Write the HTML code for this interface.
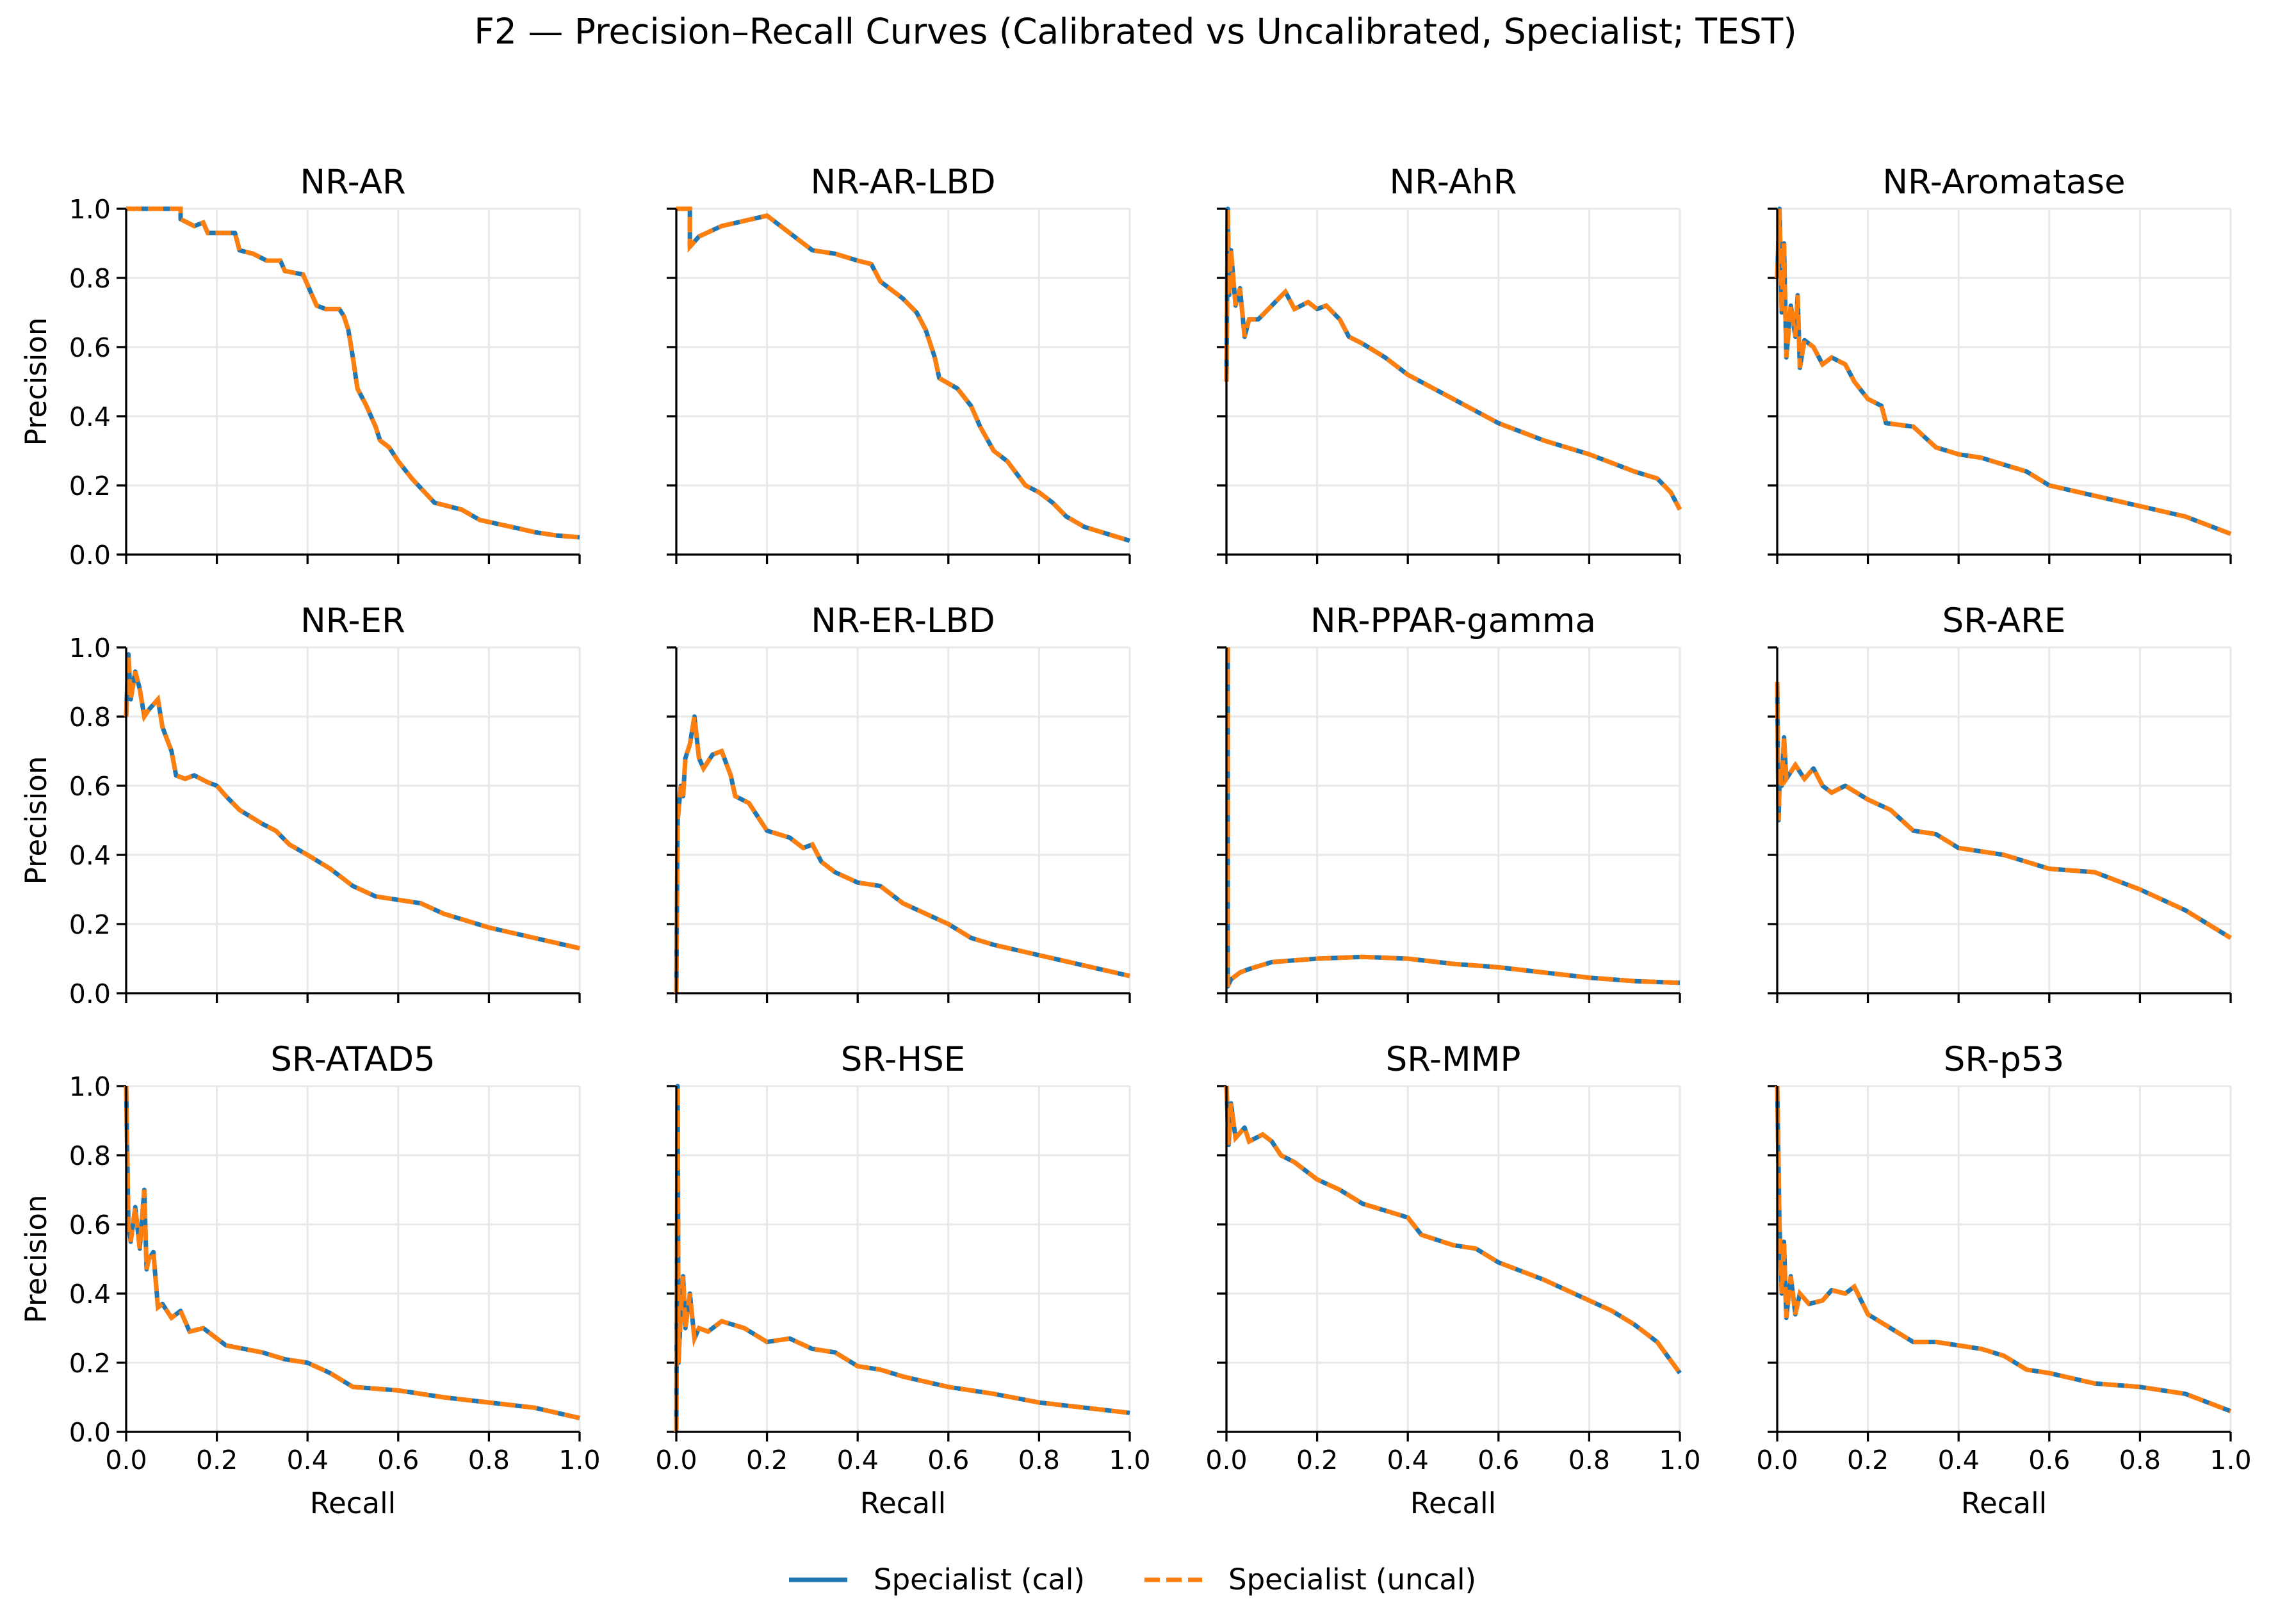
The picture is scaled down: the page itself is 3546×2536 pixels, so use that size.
<!DOCTYPE html>
<html><head><meta charset="utf-8"><style>
html,body{margin:0;padding:0;background:#fff;}
svg{display:block;font-family:"DejaVu Sans","Liberation Sans",sans-serif;}
</style></head><body>
<svg id="chart" width="3546" height="2536" viewBox="0 0 3546 2536" xmlns="http://www.w3.org/2000/svg">
<rect width="3546" height="2536" fill="#fff"/>
<text x="1773" y="68" font-size="55" text-anchor="middle" fill="#000">F2 — Precision–Recall Curves (Calibrated vs Uncalibrated, Specialist; TEST)</text>
<g>
<line x1="1232" y1="2467" x2="1323" y2="2467" stroke="#1f77b4" stroke-width="7"/>
<text x="1364" y="2482" font-size="45">Specialist (cal)</text>
<line x1="1787" y1="2467" x2="1877" y2="2467" stroke="#ff7f0e" stroke-width="7" stroke-dasharray="24,10"/>
<text x="1918" y="2482" font-size="45">Specialist (uncal)</text>
</g>
<g id="panels"></g>
</svg>
<script>
const panelTitles = ["NR-AR","NR-AR-LBD","NR-AhR","NR-Aromatase","NR-ER","NR-ER-LBD","NR-PPAR-gamma","SR-ARE","SR-ATAD5","SR-HSE","SR-MMP","SR-p53"];
const tickValues = [0,0.2,0.4,0.6,0.8,1.0];
const tickLabels = ["0.0","0.2","0.4","0.6","0.8","1.0"];
const recallNRAR = [0,0.12,0.12,0.15,0.17,0.18,0.21,0.24,0.25,0.28,0.31,0.34,0.35,0.39,0.40,0.42,0.44,0.47,0.48,0.49,0.50,0.51,0.53,0.55,0.56,0.58,0.60,0.63,0.68,0.74,0.78,0.85,0.90,0.95,1.0];
const precNRAR   = [1,1,0.97,0.95,0.96,0.93,0.93,0.93,0.88,0.87,0.85,0.85,0.82,0.81,0.78,0.72,0.71,0.71,0.69,0.65,0.57,0.48,0.43,0.37,0.33,0.31,0.27,0.22,0.15,0.13,0.10,0.08,0.065,0.055,0.05];
const recallNRARLBD = [0,0.03,0.03,0.05,0.1,0.2,0.22,0.25,0.28,0.3,0.35,0.4,0.43,0.45,0.5,0.53,0.55,0.57,0.58,0.62,0.65,0.67,0.7,0.73,0.77,0.8,0.83,0.86,0.9,0.95,1.0];
const precNRARLBD   = [1,1,0.89,0.92,0.95,0.98,0.96,0.93,0.9,0.88,0.87,0.85,0.84,0.79,0.74,0.7,0.65,0.57,0.51,0.48,0.43,0.37,0.3,0.27,0.2,0.18,0.15,0.11,0.08,0.06,0.04];
const recallNRAhR = [0,0.003,0.006,0.01,0.02,0.03,0.04,0.05,0.07,0.1,0.13,0.15,0.18,0.2,0.22,0.25,0.27,0.3,0.35,0.4,0.5,0.6,0.7,0.8,0.9,0.95,0.98,1.0];
const precNRAhR   = [0.5,1.0,0.75,0.88,0.72,0.77,0.63,0.68,0.68,0.72,0.76,0.71,0.73,0.71,0.72,0.68,0.63,0.61,0.57,0.52,0.45,0.38,0.33,0.29,0.24,0.22,0.18,0.13];
const recallArom = [0,0.005,0.01,0.015,0.02,0.03,0.04,0.045,0.05,0.06,0.08,0.1,0.12,0.15,0.17,0.2,0.23,0.24,0.3,0.35,0.4,0.45,0.5,0.55,0.6,0.7,0.8,0.9,1.0];
const precArom   = [0.8,1.0,0.7,0.9,0.57,0.72,0.63,0.75,0.54,0.62,0.6,0.55,0.57,0.55,0.5,0.45,0.43,0.38,0.37,0.31,0.29,0.28,0.26,0.24,0.2,0.17,0.14,0.11,0.06];
const recallNRER = [0,0.005,0.01,0.02,0.03,0.04,0.05,0.07,0.08,0.1,0.11,0.13,0.15,0.18,0.2,0.22,0.25,0.3,0.33,0.36,0.4,0.45,0.5,0.55,0.6,0.65,0.7,0.8,0.9,1.0];
const precNRER   = [0.8,0.98,0.85,0.93,0.88,0.8,0.82,0.85,0.77,0.7,0.63,0.62,0.63,0.61,0.6,0.57,0.53,0.49,0.47,0.43,0.4,0.36,0.31,0.28,0.27,0.26,0.23,0.19,0.16,0.13];
const recallERLBD = [0,0.003,0.01,0.015,0.02,0.03,0.04,0.05,0.06,0.08,0.1,0.12,0.13,0.16,0.18,0.2,0.25,0.28,0.3,0.32,0.35,0.4,0.45,0.5,0.55,0.6,0.65,0.7,0.8,0.9,1.0];
const precERLBD   = [0,0.5,0.6,0.57,0.68,0.72,0.8,0.68,0.65,0.69,0.7,0.63,0.57,0.55,0.51,0.47,0.45,0.42,0.43,0.38,0.35,0.32,0.31,0.26,0.23,0.2,0.16,0.14,0.11,0.08,0.05];
const recallPPAR = [0.003,0.003,0.01,0.03,0.05,0.1,0.2,0.3,0.4,0.5,0.6,0.7,0.8,0.9,1.0];
const precPPAR   = [1,0.02,0.04,0.06,0.07,0.09,0.1,0.105,0.1,0.085,0.075,0.06,0.045,0.035,0.03];
const recallARE = [0,0.003,0.006,0.01,0.015,0.02,0.04,0.06,0.08,0.1,0.12,0.15,0.2,0.25,0.3,0.35,0.4,0.45,0.5,0.55,0.6,0.7,0.8,0.9,1.0];
const precARE   = [0.9,0.5,0.65,0.6,0.74,0.62,0.66,0.62,0.65,0.6,0.58,0.6,0.56,0.53,0.47,0.46,0.42,0.41,0.4,0.38,0.36,0.35,0.3,0.24,0.16];
const recallATAD5 = [0,0.005,0.01,0.02,0.03,0.04,0.045,0.05,0.06,0.07,0.08,0.1,0.12,0.14,0.17,0.2,0.22,0.3,0.35,0.4,0.45,0.5,0.6,0.7,0.8,0.9,1.0];
const precATAD5   = [1,0.6,0.55,0.65,0.53,0.7,0.47,0.5,0.52,0.36,0.37,0.33,0.35,0.29,0.3,0.27,0.25,0.23,0.21,0.2,0.17,0.13,0.12,0.1,0.085,0.07,0.04];
const recallHSE = [0,0.003,0.005,0.01,0.015,0.02,0.03,0.04,0.05,0.07,0.1,0.15,0.2,0.25,0.3,0.35,0.4,0.45,0.5,0.6,0.7,0.8,0.9,1.0];
const precHSE   = [0,1,0.2,0.35,0.45,0.3,0.4,0.27,0.3,0.29,0.32,0.3,0.26,0.27,0.24,0.23,0.19,0.18,0.16,0.13,0.11,0.085,0.07,0.055];
const recallMMP = [0,0.005,0.01,0.02,0.04,0.05,0.08,0.1,0.12,0.15,0.2,0.25,0.3,0.35,0.4,0.43,0.5,0.55,0.6,0.7,0.8,0.85,0.9,0.95,1.0];
const precMMP   = [1,0.83,0.95,0.85,0.88,0.84,0.86,0.84,0.8,0.78,0.73,0.7,0.66,0.64,0.62,0.57,0.54,0.53,0.49,0.44,0.38,0.35,0.31,0.26,0.17];
const recallP53 = [0,0.005,0.01,0.015,0.02,0.03,0.04,0.05,0.07,0.1,0.12,0.15,0.17,0.2,0.25,0.3,0.35,0.4,0.45,0.5,0.55,0.6,0.7,0.8,0.9,1.0];
const precP53   = [1,0.6,0.4,0.55,0.33,0.45,0.34,0.4,0.37,0.38,0.41,0.4,0.42,0.34,0.3,0.26,0.26,0.25,0.24,0.22,0.18,0.17,0.14,0.13,0.11,0.06];

const recallSeries = [recallNRAR,recallNRARLBD,recallNRAhR,recallArom,recallNRER,recallERLBD,recallPPAR,recallARE,recallATAD5,recallHSE,recallMMP,recallP53];
const precCalSeries = [precNRAR,precNRARLBD,precNRAhR,precArom,precNRER,precERLBD,precPPAR,precARE,precATAD5,precHSE,precMMP,precP53];
const precUncalSeries = precCalSeries;

const NS = "http://www.w3.org/2000/svg";
const colLeft = [197,1056,1915,2775], rowTop = [326,1011,1696];
const W = 708, H = 540;
const root = document.getElementById('panels');
function mk(tag, attrs, parent){ const e=document.createElementNS(NS,tag); for(const k in attrs) e.setAttribute(k,attrs[k]); parent.appendChild(e); return e; }

panelTitles.forEach((title, i) => {
  const r = Math.floor(i/4), c = i%4;
  const x0 = colLeft[c], y0 = rowTop[r];
  const sx = v => x0 + v*W, sy = v => y0 + H - v*H;
  const g = mk('g', {}, root);
  
  
  tickValues.forEach((t, k) => {
    mk('line',{x1:sx(t),y1:y0,x2:sx(t),y2:y0+H,stroke:'#e8e8e8','stroke-width':3},g);
    mk('line',{x1:x0,y1:sy(t),x2:x0+W,y2:sy(t),stroke:'#e8e8e8','stroke-width':3},g);
    mk('line',{x1:sx(t),y1:y0+H,x2:sx(t),y2:y0+H+15,stroke:'#000','stroke-width':3.3},g);
    mk('line',{x1:x0-15,y1:sy(t),x2:x0,y2:sy(t),stroke:'#000','stroke-width':3.3},g);
    if (r===2){ const tl=mk('text',{x:sx(t),y:y0+H+58,'font-size':41,'text-anchor':'middle'},g); tl.textContent=tickLabels[k];
        }
    if (c===0){ const tl=mk('text',{x:x0-24,y:sy(t)+15,'font-size':41,'text-anchor':'end'},g); tl.textContent=tickLabels[k];
        }
  });
  const rec = recallSeries[i];
  const dCal = rec.map((v,k)=>(k?'L':'M')+sx(v).toFixed(1)+','+sy(precCalSeries[i][k]).toFixed(1)).join(' ');
  const dUn = rec.map((v,k)=>(k?'L':'M')+sx(v).toFixed(1)+','+sy(precUncalSeries[i][k]).toFixed(1)).join(' ');
  const p1 = mk('path',{d:dCal,fill:'none',stroke:'#1f77b4','stroke-width':7,'stroke-linejoin':'round'},g);
  
  
  const p2 = mk('path',{d:dUn,fill:'none',stroke:'#ff7f0e','stroke-width':7,'stroke-dasharray':'24,10'},g);
  
  
  mk('line',{x1:x0,y1:y0,x2:x0,y2:y0+H,stroke:'#000','stroke-width':3.3},g);
  mk('line',{x1:x0,y1:y0+H,x2:x0+W,y2:y0+H,stroke:'#000','stroke-width':3.3},g);
  const tt = mk('text',{x:x0+W/2,y:y0-24,'font-size':53,'text-anchor':'middle'},g);
  tt.textContent = title;
  
  
  if (c===0){ const yl=mk('text',{x:0,y:0,'font-size':45,'text-anchor':'middle',transform:`translate(72,${y0+H/2}) rotate(-90)`},g); yl.textContent='Precision';
      }
  if (r===2){ const xl=mk('text',{x:x0+W/2,y:y0+H+127,'font-size':45,'text-anchor':'middle'},g); xl.textContent='Recall';
      }
});
</script>
</body></html>
